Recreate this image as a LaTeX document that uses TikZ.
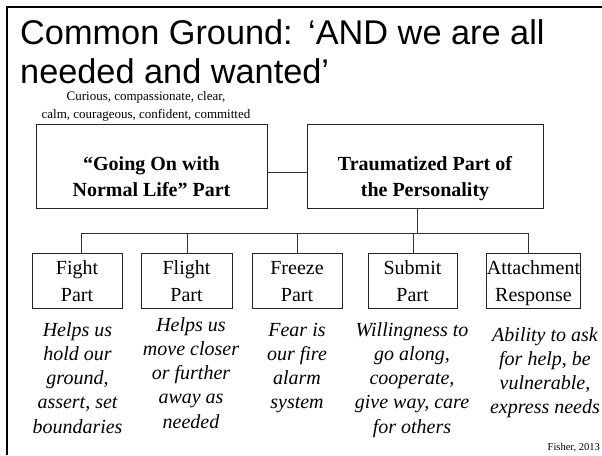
\documentclass[tikz,border=0pt]{standalone}
\usepackage{fontspec}
\setmainfont{Liberation Serif}
\newfontfamily\titlefont{Liberation Sans}
\newcommand\myfirstst{\rule{0pt}{20pt}}
\newcommand\mylastst{\rule[-5pt]{0pt}{5pt}}
\begin{document}
\begin{tikzpicture}[x=1pt,y=-1pt,
  box/.style={draw=black!85, line width=0.9pt, inner sep=0pt},
  bigbox/.style={box, minimum height=84pt},
  smallbox/.style={box, minimum width=90pt, minimum height=55pt,
    font=\fontsize{20}{27.5}\selectfont, align=center},
  boxtext/.style={font=\fontsize{20}{26.5}\selectfont\bfseries, align=center, anchor=base, inner sep=0pt},
  desc/.style={font=\fontsize{20}{24.3}\selectfont\itshape, align=center, anchor=base, inner sep=0pt},
  conn/.style={draw=black!80, line width=0.9pt},
  frameline/.style={line width=2.5pt, draw=black}]
\useasboundingbox (0,0) rectangle (602,455);
\fill[white] (0,0) rectangle (602,455);
\coordinate (fr1) at (602,7);
\coordinate (fr2) at (7,7);
\coordinate (fr3) at (7,455);
\draw[frameline] (fr1) -- (fr2) -- (fr3);

\node[anchor=base west, font=\titlefont\fontsize{34.3}{39}\selectfont, align=left, inner sep=0pt] (title) at (20,83)
  {Common Ground:\hspace{0.45em}‘AND we are all\\needed and wanted’};

\node[align=center, anchor=base, font=\fontsize{13}{18}\selectfont, inner sep=0pt] (sub) at (146,118)
  {Curious, compassionate, clear,\\calm, courageous, confident, committed};

\node[bigbox, minimum width=231pt] (gonl) at (151.5,166) {};
\node[boxtext] (gonlt) at (151.5,196.5) {“Going On with\\Normal Life” Part};
\node[bigbox, minimum width=236pt] (trauma) at (425,166) {};
\node[boxtext] (traumat) at (425,196.5) {Traumatized Part of\\the Personality};

\node[smallbox] (fight) at (77,280.5) {\myfirstst Fight\\Part\mylastst};
\node[smallbox, minimum width=91pt] (flight) at (186.5,280.5) {\myfirstst Flight\\Part\mylastst};
\node[smallbox] (freeze) at (297,280.5) {\myfirstst Freeze\\Part\mylastst};
\node[smallbox, minimum width=89pt] (submit) at (412.5,280.5) {\myfirstst Submit\\Part\mylastst};
\node[smallbox, minimum width=91pt] (attach) at (533.5,280.5) {\myfirstst Attachment\\Response\mylastst};

\coordinate (bus) at (0,233);
\draw[conn] ([yshift=-6pt]gonl.east) -- ([yshift=-6pt]trauma.west);
\draw[conn] ([xshift=-8pt]trauma.south) -- ([xshift=-8pt]trauma.south |- bus);
\draw[conn] ([xshift=4pt]fight.north) -- ([xshift=4pt]fight.north |- bus)
  -- ([xshift=-5.5pt]attach.north |- bus) -- ([xshift=-5.5pt]attach.north);
\draw[conn] ([xshift=0.5pt]flight.north) -- ([xshift=0.5pt]flight.north |- bus);
\draw[conn] (freeze.north) -- (freeze.north |- bus);
\draw[conn] ([xshift=0.5pt]submit.north) -- ([xshift=0.5pt]submit.north |- bus);

\node[desc] (fightd) at (77.5,433.2) {Helps us\\hold our\\ground,\\assert, set\\boundaries};
\node[desc] (flightd) at (191,428.2) {Helps us\\move closer\\or further\\away as\\needed};
\node[desc] (freezed) at (297,408.9) {Fear is\\our fire\\alarm\\system};
\node[desc] (submitd) at (412,433.2) {Willingness to\\go along,\\cooperate,\\give way, care\\for others};
\node[desc] (attachd) at (545,413.9) {Ability to ask\\for help, be\\vulnerable,\\express needs};

\node[anchor=base east, font=\fontsize{10.5}{12}\selectfont, inner sep=0pt] (cite) at (600,450) {Fisher, 2013};
\end{tikzpicture}
\end{document}
